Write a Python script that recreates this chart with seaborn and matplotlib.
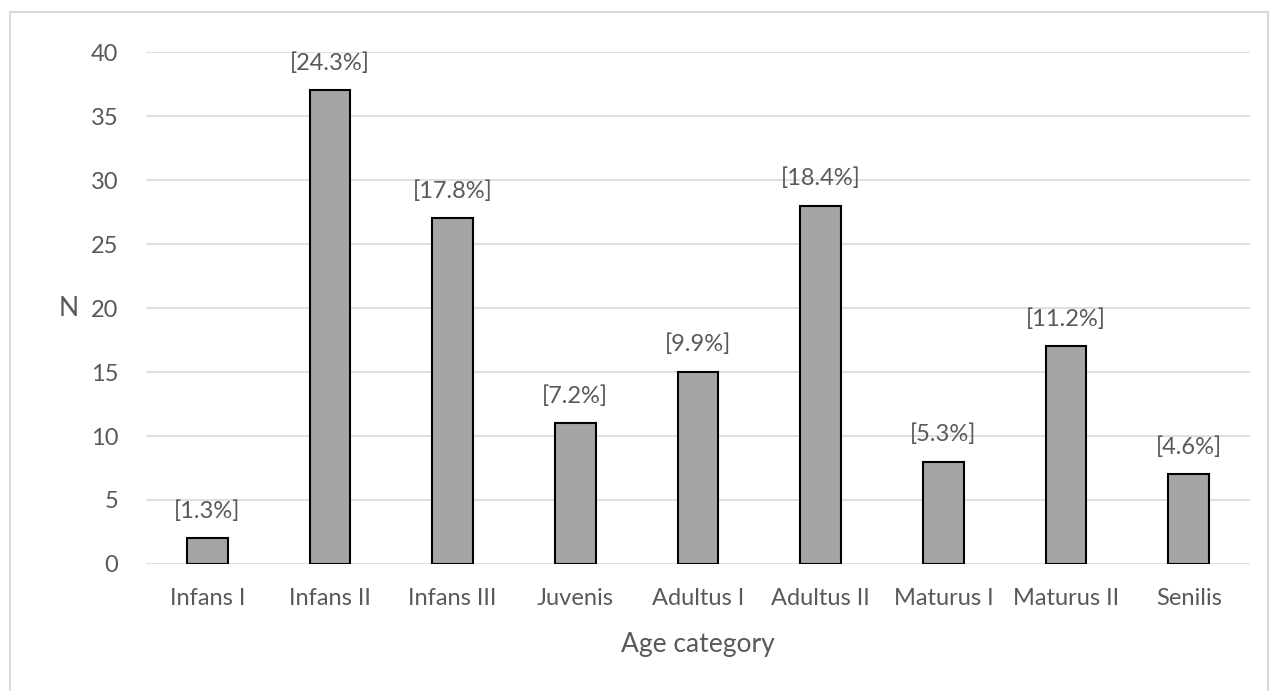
import matplotlib
matplotlib.use("Agg")
import matplotlib.pyplot as plt
import seaborn as sns
import pandas as pd
from matplotlib.patches import Rectangle

# Data
categories = ["Infans I", "Infans II", "Infans III", "Juvenis", "Adultus I",
              "Adultus II", "Maturus I", "Maturus II", "Senilis"]
counts = [2, 37, 27, 11, 15, 28, 8, 17, 7]
pct_labels = ["[1.3%]", "[24.3%]", "[17.8%]", "[7.2%]", "[9.9%]",
              "[18.4%]", "[5.3%]", "[11.2%]", "[4.6%]"]

sns.set_theme(style="white")
plt.rcParams["font.family"] = ["Lato", "DejaVu Sans"]

text_col = "#595959"
df = pd.DataFrame({"category": categories, "N": counts})

fig = plt.figure(figsize=(12.76, 6.91), dpi=100)
ax = fig.add_axes([146 / 1276, 1 - 564 / 691, 1104 / 1276, 512 / 691])

# chart frame
fig.patches.append(Rectangle((10 / 1276, -0.01), 1258 / 1276, 1 - 12 / 691 + 0.01,
                             transform=fig.transFigure, fill=False,
                             edgecolor="#D9D9D9", linewidth=1.5))

sns.barplot(data=df, x="category", y="N", color="#A5A5A5", width=0.33,
            edgecolor="black", linewidth=1.5, saturation=1, ax=ax, zorder=3)

for i, (v, lab) in enumerate(zip(counts, pct_labels)):
    ax.annotate(lab, (i, v), xytext=(0, 12), textcoords="offset points",
                ha="center", va="bottom", fontsize=17, color=text_col)

ax.set_ylim(0, 40)
ax.set_yticks(range(0, 41, 5))
ax.yaxis.grid(True, color="#D9D9D9", linewidth=1.2, zorder=0)
ax.set_axisbelow(True)
for s in ax.spines.values():
    s.set_visible(False)
ax.tick_params(axis="both", length=0, labelsize=17, labelcolor=text_col)
ax.tick_params(axis="x", pad=17)
ax.tick_params(axis="y", pad=20)
ax.set_xlabel("Age category", fontsize=19, color=text_col, labelpad=17)
ax.set_ylabel("N", fontsize=19, color=text_col, rotation=0, labelpad=16, va="center")

fig.savefig("out.png", dpi=100)
